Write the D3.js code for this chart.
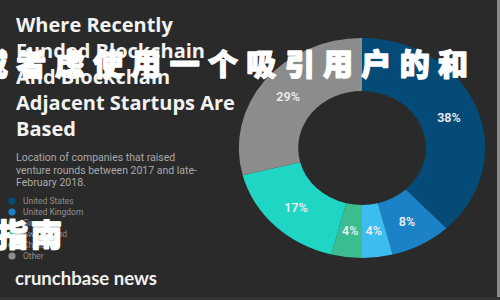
<!DOCTYPE html>
<html><head><meta charset="utf-8">
<script src="https://cdn.jsdelivr.net/npm/d3@7"></script>
<style>
html,body{margin:0;padding:0;background:#2a2a2a;}
svg{display:block;}
</style></head>
<body>
<svg id="c" width="500" height="300"></svg>
<script>
const countries = ["United States","United Kingdom","Singapore","Switzerland","China","Other"];
const shares = [38, 8, 4, 4, 17, 29];
const colors = ["#044b77","#1b82c8","#3cbdf0","#3bbd90","#1fd6c5","#8c8c8c"];
const titleLines = ["Where Recently","Funded Blockchain","And Blockchain","Adjacent Startups Are","Based"];
const subtitleLines = ["Location of companies that raised","venture rounds between 2017 and late-","February 2018."];
const brand = "crunchbase news";
const overlayLine1 = "或者虑使用一个吸引用户的和";
const overlayLine2 = "指南";

const svg = d3.select("#c");
svg.append("rect").attr("width",500).attr("height",300).attr("fill","#2a2a2a");
svg.append("rect").attr("x",497).attr("width",3).attr("height",300).attr("fill","#8a8a8a");
svg.append("rect").attr("y",297).attr("width",500).attr("height",3).attr("fill","#333");

// title
svg.append("g").selectAll("text").data(titleLines).join("text")
  .attr("x",16).attr("y",(d,i)=>32+i*26)
  .attr("fill","#f2f2f2").attr("font-family","'Open Sans', Roboto, sans-serif")
  .attr("font-weight",700).attr("font-size",20).text(d=>d);

// subtitle
svg.append("g").selectAll("text").data(subtitleLines).join("text")
  .attr("x",16).attr("y",(d,i)=>161+i*12.5)
  .attr("fill","#a9a9a9").attr("font-family","Roboto, sans-serif")
  .attr("font-size",10.5).text(d=>d);

// legend
const lg = svg.append("g").selectAll("g").data(countries).join("g")
  .attr("transform",(d,i)=>`translate(12,${201+i*11})`);
lg.append("circle").attr("r",3.6).attr("fill",(d,i)=>colors[i]);
lg.append("text").attr("x",11).attr("dy","0.35em").attr("fill","#8f8f8f")
  .attr("font-family","Roboto, sans-serif").attr("font-size",8.5).text(d=>d);

// brand
svg.append("text").attr("x",15).attr("y",285).attr("fill","#f0f0f0")
  .attr("font-family","Lato, 'Noto Sans', sans-serif").attr("font-weight",700)
  .attr("font-size",18).attr("textLength",142).attr("lengthAdjust","spacingAndGlyphs").text(brand);

// donut
const cx=362, cy=148, R=110, r=57, sx=1.12;
const pie = d3.pie().sort(null).value(d=>d);
const arcs = pie(shares);
const arc = d3.arc().innerRadius(r).outerRadius(R);
const labelArc = d3.arc().innerRadius((r+R)/2).outerRadius((r+R)/2);
const g = svg.append("g").attr("transform",`translate(${cx},${cy}) scale(${sx},1)`);
g.selectAll("path").data(arcs).join("path")
  .attr("d",arc).attr("fill",(d,i)=>colors[i]);
const lab = svg.append("g").attr("transform",`translate(${cx},${cy})`);
lab.selectAll("text").data(arcs).join("text")
  .attr("x",d=>labelArc.centroid(d)[0]*sx).attr("y",d=>labelArc.centroid(d)[1])
  .attr("text-anchor","middle").attr("dominant-baseline","central")
  .attr("fill","#ececec").attr("font-family","Roboto, sans-serif")
  .attr("font-weight",600).attr("font-size",12.5).text(d=>d.data+"%");

// overlay text
svg.append("text").attr("x",-22).attr("y",75)
  .attr("font-family","'Noto Sans CJK SC', sans-serif").attr("font-weight",900)
  .attr("font-size",30).attr("fill","#ffffff").attr("stroke","#ffffff").attr("stroke-width",1.3)
  .attr("stroke-linejoin","round")
  .attr("textLength",490).attr("lengthAdjust","spacing").text(overlayLine1);
svg.append("text").attr("x",-3).attr("y",246)
  .attr("font-family","'Noto Sans CJK SC', sans-serif").attr("font-weight",900)
  .attr("font-size",31).attr("fill","#ffffff").attr("stroke","#ffffff").attr("stroke-width",1.3)
  .attr("stroke-linejoin","round")
  .attr("letter-spacing",3).text(overlayLine2);
</script>
</body></html>
